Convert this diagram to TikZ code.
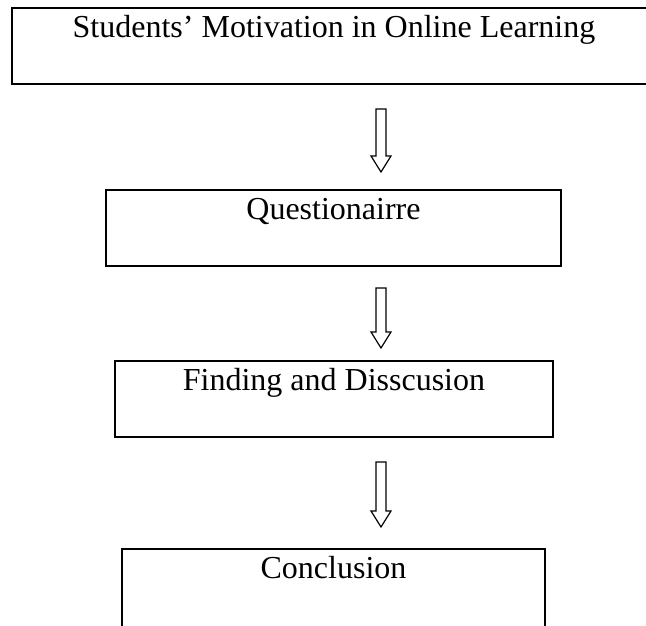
\documentclass[tikz,border=0pt]{standalone}
\usepackage{fontspec}
\setmainfont{Liberation Serif}
\usetikzlibrary{calc}

\tikzset{
  stagebox/.style={draw, line width=2pt, anchor=north, inner xsep=0pt, inner ysep=0pt,
    text height=30pt, text depth=46pt, font=\fontsize{32}{38}\selectfont},
  arrowline/.style={draw, line width=1.2pt, line join=miter}
}
% hollow block arrow between two points
\newcommand{\flowarrow}[2]{%
  \draw[arrowline] ($(#1)+(-5,0)$) -- ($(#2)+(-5,16)$) -- ++(-5,0) -- (#2)
    -- ++(10,16) -- ++(-5,0) -- ($(#1)+(5,0)$) -- cycle;}

\begin{document}
\begin{tikzpicture}[x=1pt, y=1pt]
      \clip (0,0) rectangle (646,626);

      \node[stagebox, minimum width=645pt] (motiv) at (334,619) {Students’ Motivation in Online Learning};
      \node[stagebox, minimum width=455pt] (quest) at (333.5,437) {Questionairre};
      \node[stagebox, minimum width=438pt] (find) at (334,266) {Finding and Disscusion};
      \node[stagebox, minimum width=423pt, text depth=70pt] (concl) at (333.5,78) {Conclusion};

      \coordinate (a1) at ($(motiv.south)+(47,-24)$);
      \coordinate (b1) at ($(quest.north)+(47.5,17)$);
      \coordinate (a2) at ($(quest.south)+(47.5,-21)$);
      \coordinate (b2) at ($(find.north)+(47,12)$);
      \coordinate (a3) at ($(find.south)+(47,-24)$);
      \coordinate (b3) at ($(concl.north)+(47.5,21)$);

      \flowarrow{a1}{b1}
      \flowarrow{a2}{b2}
      \flowarrow{a3}{b3}
    \end{tikzpicture}
\end{document}
